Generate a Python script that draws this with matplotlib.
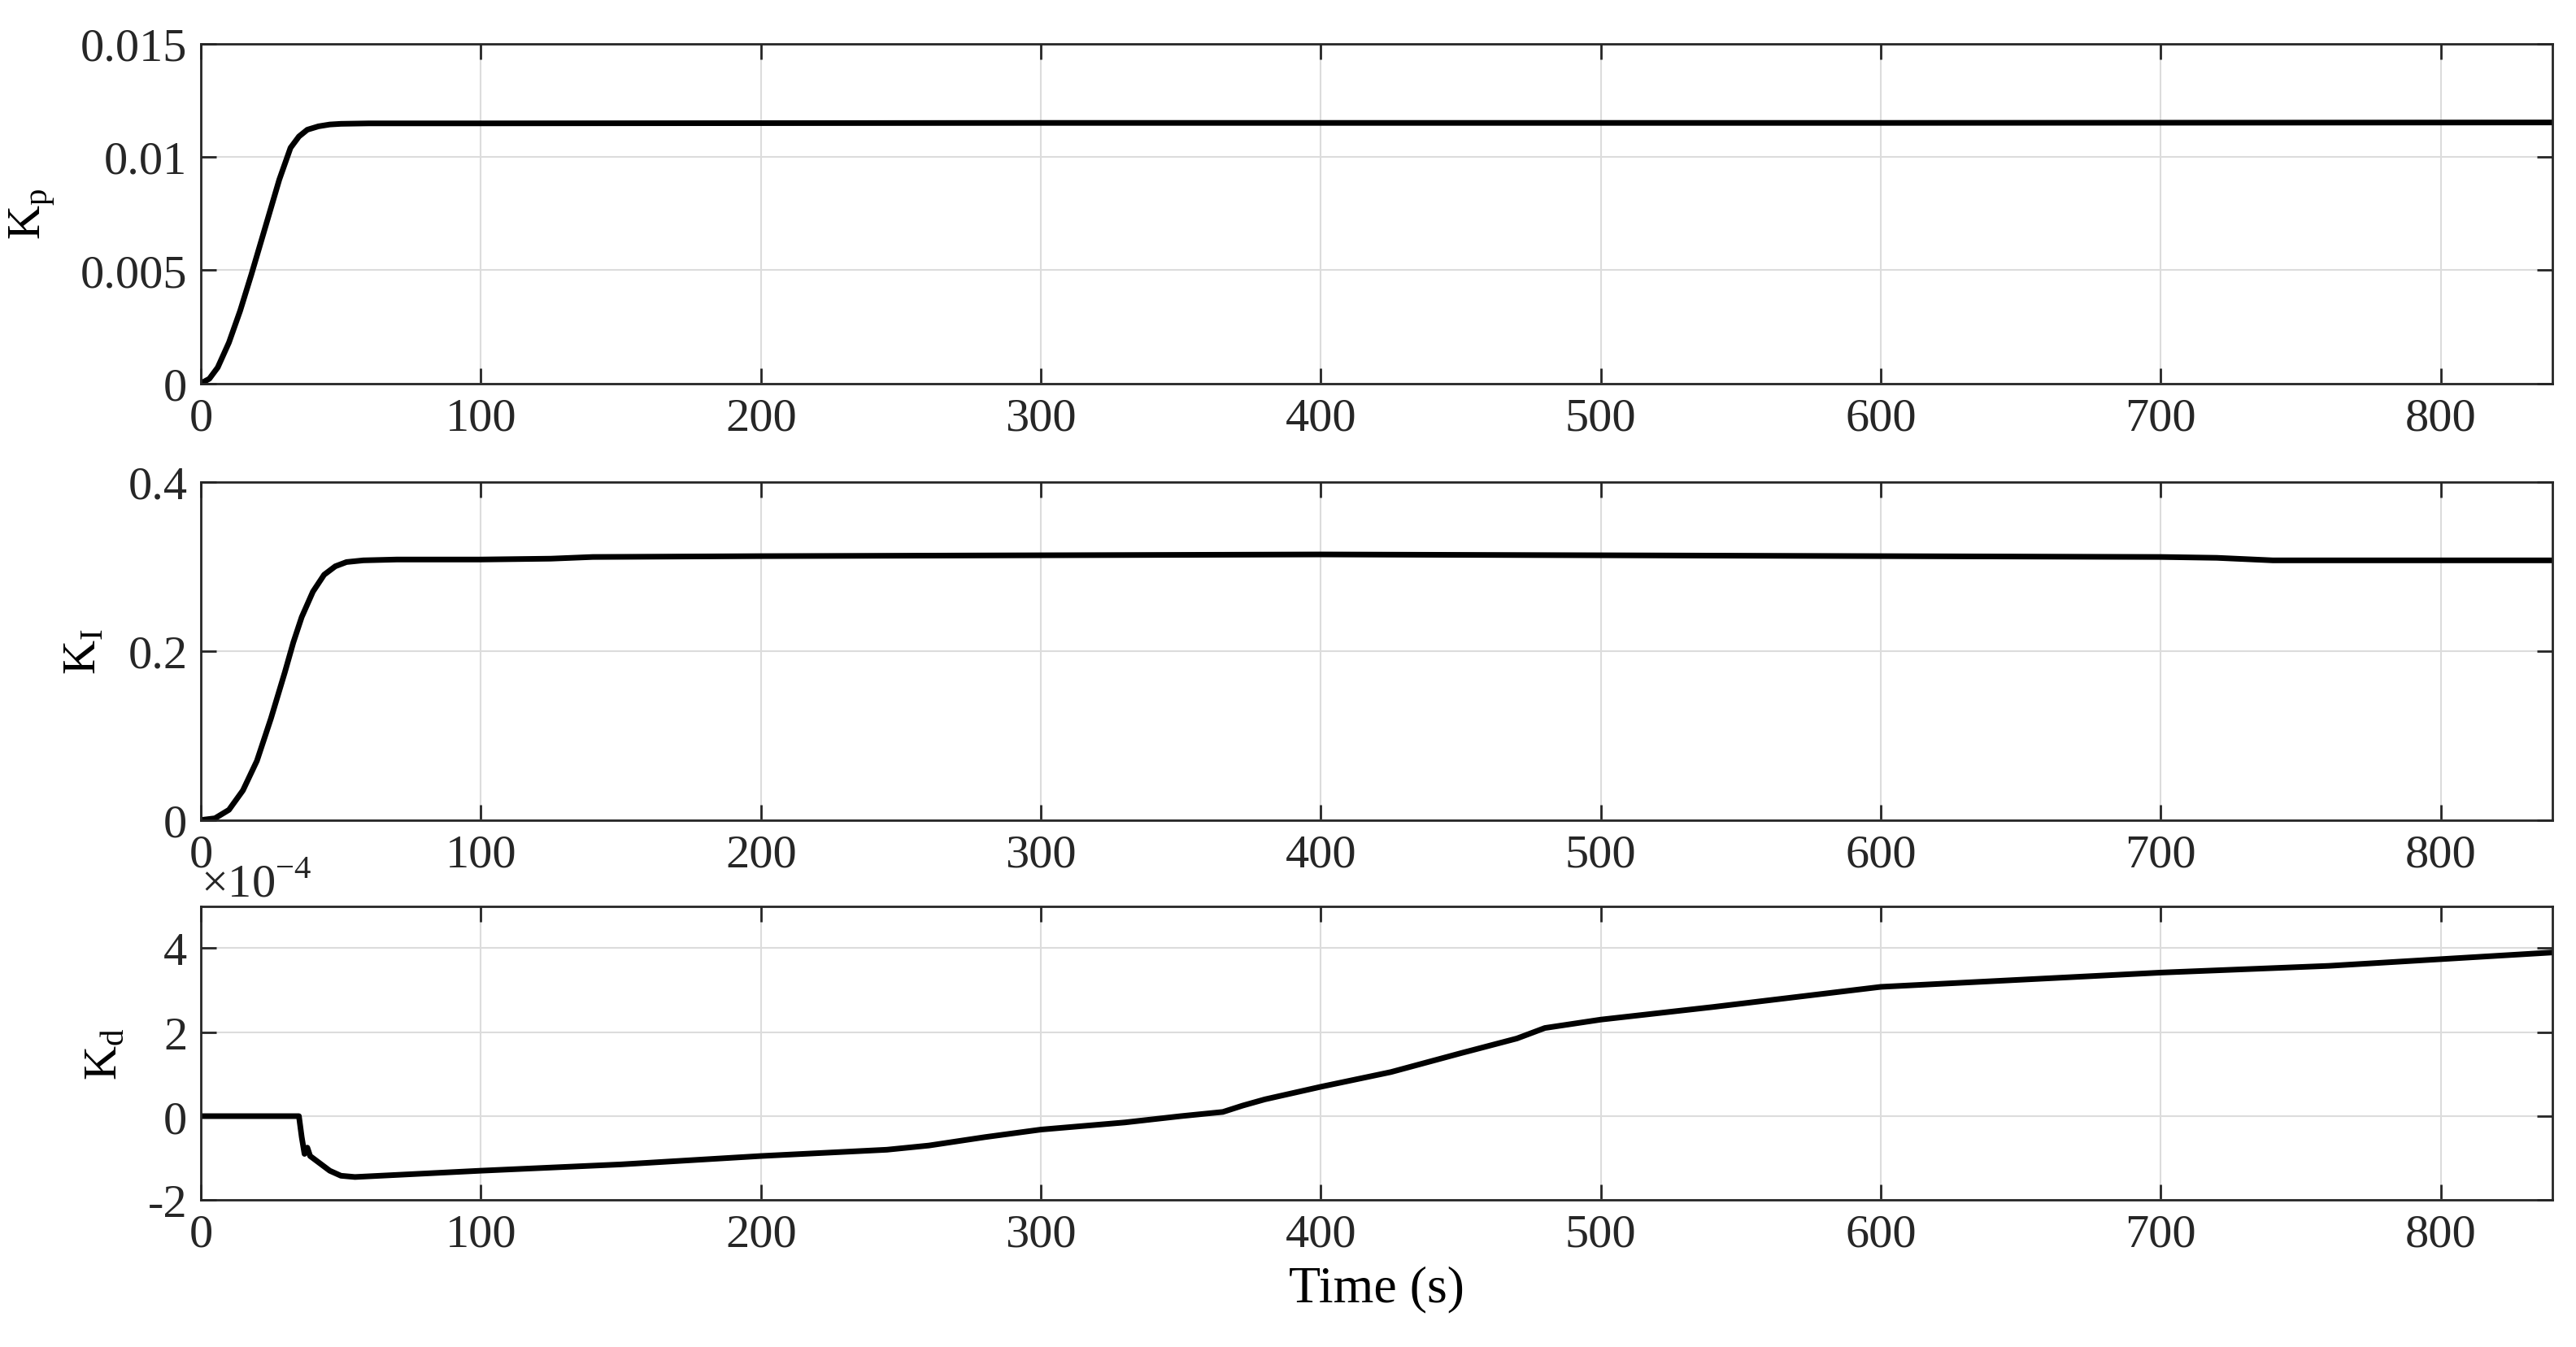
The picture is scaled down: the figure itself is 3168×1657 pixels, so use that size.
import numpy as np
import matplotlib
matplotlib.use("Agg")
import matplotlib.pyplot as plt

plt.rcParams['font.family'] = ['Liberation Serif', 'DejaVu Serif']
plt.rcParams['axes.unicode_minus'] = False
plt.rcParams['mathtext.fontset'] = 'custom'
plt.rcParams['mathtext.rm'] = 'Liberation Serif'

kp_t = [0, 3, 6, 10, 14, 18, 23, 28, 32, 35, 38, 42, 46, 50, 60, 100, 300, 600, 840]
kp_v = [0, 0.0002, 0.0007, 0.0018, 0.0032, 0.0048, 0.0069, 0.009, 0.0104, 0.0109, 0.0112, 0.01135, 0.01143, 0.01146, 0.01148, 0.01148, 0.0115, 0.0115, 0.01152]

ki_t = [0, 5, 10, 15, 20, 25, 30, 33, 36, 40, 44, 48, 52, 58, 70, 100, 125, 140, 200, 300, 400, 500, 600, 700, 720, 740, 840]
ki_v = [0, 0.002, 0.012, 0.035, 0.07, 0.12, 0.175, 0.21, 0.24, 0.27, 0.29, 0.3, 0.305, 0.307, 0.308, 0.308, 0.309, 0.311, 0.312, 0.313, 0.314, 0.313, 0.312, 0.311, 0.31, 0.307, 0.307]

kd_t = [0, 35, 36, 37, 38, 39, 42, 46, 50, 55, 70, 100, 150, 200, 245, 260, 280, 300, 330, 350, 365, 372, 380, 400, 425, 450, 470, 480, 500, 540, 590, 600, 700, 760, 840]
kd_v = [0, 0, -0.5, -0.9, -0.75, -0.95, -1.1, -1.3, -1.42, -1.45, -1.4, -1.3, -1.15, -0.95, -0.8, -0.7, -0.5, -0.32, -0.15, 0.0, 0.1, 0.25, 0.4, 0.7, 1.05, 1.5, 1.85, 2.1, 2.3, 2.6, 3.0, 3.08, 3.42, 3.58, 3.9]
kd_v = [v * 1e-4 for v in kd_v]

fig = plt.figure(figsize=(31.68, 16.58), dpi=100)
L, R = 0.078, 0.991
rects = [(0.715, 0.967), (0.391, 0.642), (0.109, 0.327)]
fs = 42
axes = []
for b, t in rects:
    ax = fig.add_axes([L, b, R - L, t - b])
    axes.append(ax)

def style(ax):
    ax.set_xlim(0, 840)
    ax.set_xticks([0, 100, 200, 300, 400, 500, 600, 700, 800])
    ax.grid(True, color='#dcdcdc', linewidth=1.5)
    ax.tick_params(direction='in', length=14, width=2, labelsize=fs, top=True, right=True, pad=12, colors='#262626')
    for s in ax.spines.values():
        s.set_linewidth(2); s.set_color('#262626')

a1, a2, a3 = axes
a1.plot(kp_t, kp_v, color='black', lw=5)
style(a1); a1.set_ylim(0, 0.015); a1.set_yticks([0, 0.005, 0.01, 0.015])
a1.set_yticklabels(['0', '0.005', '0.01', '0.015'])
a1.set_ylabel('K$_\\mathrm{p}$', fontsize=fs, labelpad=20)

a2.plot(ki_t, ki_v, color='black', lw=5)
style(a2); a2.set_ylim(0, 0.4); a2.set_yticks([0, 0.2, 0.4])
a2.set_yticklabels(['0', '0.2', '0.4'])
a2.set_ylabel('K$_\\mathrm{I}$', fontsize=fs, labelpad=20)

a3.plot(kd_t, kd_v, color='black', lw=5)
style(a3); a3.set_ylim(-2e-4, 5e-4); a3.set_yticks([-2e-4, 0, 2e-4, 4e-4])
a3.set_yticklabels(['-2', '0', '2', '4'])
a3.text(0.0, 1.005, '$\\times$10$^{-4}$', transform=a3.transAxes, fontsize=fs, va='bottom', ha='left', color='#262626')
a3.set_ylabel('K$_\\mathrm{d}$', fontsize=fs, labelpad=20)
a3.set_xlabel('Time (s)', fontsize=fs + 4, labelpad=8)

fig.savefig('out.png', dpi=100)
